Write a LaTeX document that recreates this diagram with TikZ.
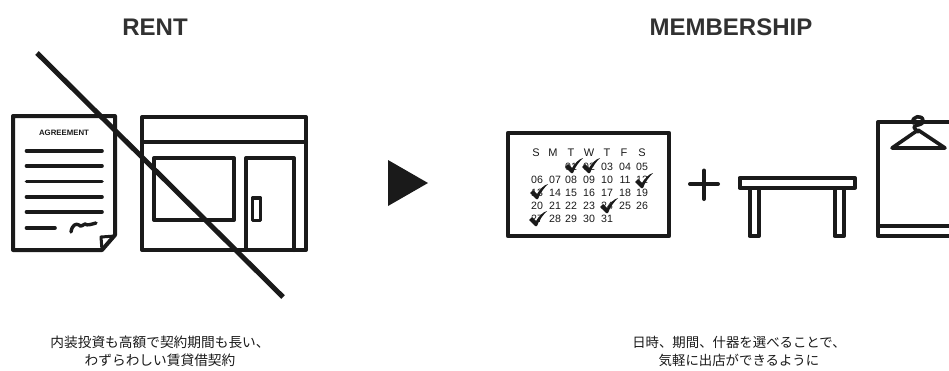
\documentclass[tikz,border=0pt]{standalone}
\usepackage{fontspec}
\setmainfont{Liberation Sans}
\newfontfamily\cjk{Noto Sans CJK JP}
\newcommand{\tick}[2]{\fill[ink,shift={(#1,#2)}] (-9,1) -- (-6,-2) -- (-2,2) .. controls (1,-3) and (5,-7) .. (9,-8) .. controls (5,-4) and (1,1) .. (-1,7) -- (-3,7) -- cycle;}
\definecolor{ink}{HTML}{1A1A1A}
\tikzset{
  iconline/.style={draw=ink,line width=4pt,line join=round,line cap=round},
  thinline/.style={draw=ink,line width=3.6pt,line join=round,line cap=round},
  headtext/.style={font=\fontsize{24}{24}\selectfont\bfseries,text=ink!90,inner sep=0pt},
  captext/.style={font=\fontsize{13.7}{18}\selectfont\cjk,text=ink,inner sep=0pt,align=center},
  caltext/.style={font=\fontsize{10.6}{11}\selectfont,text=ink,inner sep=0pt},
  calhead/.style={font=\fontsize{11}{11}\selectfont,text=ink,inner sep=0pt},
}
\begin{document}
\begin{tikzpicture}[x=1pt,y=-1pt]
\useasboundingbox[fill=white] (0,0) rectangle (949,370);
\node[headtext] (rent) at (155,27) {RENT};
\node[headtext] (member) at (731,27) {MEMBERSHIP};
% agreement
\draw[iconline] (13,116) -- (115,116) -- (115,235) -- (102,250) -- (13,250) -- cycle;
\draw[draw=ink,line width=3pt,line join=round] (115,236) -- (101,237) -- (102,250);
\node[font=\fontsize{7.8}{8}\selectfont\bfseries,text=ink,inner sep=0pt] (agr) at (64,133) {AGREEMENT};
\foreach \y in {151,166,181.5,197,212}
  \draw[thinline] (26.5,\y) -- (102,\y);
\draw[thinline] (26.5,228) -- (55,228);
\draw[draw=ink,line width=3.4pt,line cap=round,line join=round] (71,232) .. controls (72,225) and (76,223) .. (79,225) .. controls (81,228) and (83,224) .. (85,224) .. controls (87,226) and (92,224) .. (96,223);
% shop
\draw[iconline] (142,117) rectangle (306,250);
\draw[iconline] (142,142) -- (306,142);
\draw[iconline] (154,158) rectangle (234,220);
\draw[iconline] (246,250) -- (246,158) -- (294,158) -- (294,250);
\draw[thinline] (252.5,198) rectangle (260.5,220.5);
% cross
\draw[draw=ink,line width=5pt] (37,53) -- (283,297);
% arrow
\fill[ink] (388,160) -- (428,183) -- (388,206) -- cycle;
% calendar
\draw[draw=ink,line width=4.4pt,line join=round] (508,133) rectangle (669,236);
\foreach \c/\x in {S/536,M/553,T/571,W/589,T/607,F/624,S/642}
  \node[calhead] at (\x,153) {\c};
\foreach \t/\x/\y in {
  01/571/167,02/589/167,03/607/167,04/625/167,05/642/167,
  06/537/180,07/555/180,08/571/180,09/589/180,10/607/180,11/625/180,12/642/180,
  13/537/193,14/555/193,15/571/193,16/589/193,17/607/193,18/625/193,19/642/193,
  20/537/206,21/555/206,22/571/206,23/589/206,24/607/206,25/625/206,26/642/206,
  27/537/219,28/555/219,29/571/219,30/589/219,31/607/219}
  \node[caltext] at (\x,\y) {\t};
\tick{574}{166}\tick{591}{166}\tick{644}{181}\tick{539}{192}\tick{609}{206}\tick{538}{219}
% plus
\draw[draw=ink,line width=4pt,line cap=round] (690,184) -- (718,184);
\draw[draw=ink,line width=4pt,line cap=round] (704,170.5) -- (704,199);
% table
\draw[iconline] (739.5,178) rectangle (855,187.5);
\draw[iconline] (749.5,188) -- (749.5,236) -- (759,236) -- (759,188);
\draw[iconline] (834.5,188) -- (834.5,236) -- (844,236) -- (844,188);
% rack
\draw[iconline] (960,122) -- (878,122) -- (878,236) -- (960,236);
\draw[iconline] (878,226) -- (960,226);
% hanger
\draw[thinline] (913,123) .. controls (911,116) and (923,114) .. (923,121) .. controls (923,126) and (915,124) .. (914,127) .. controls (914,130) and (917,130) .. (918,132);
\draw[thinline] (918,130) -- (892,148) -- (945,148) -- cycle;
% captions
\node[captext] (left) at (160,351) {内装投資も高額で契約期間も長い、\\わずらわしい賃貸借契約};
\node[captext,font=\fontsize{13.4}{18}\selectfont\cjk] (right) at (739,351) {日時、期間、什器を選べることで、\\気軽に出店ができるように};
\end{tikzpicture}
\end{document}
